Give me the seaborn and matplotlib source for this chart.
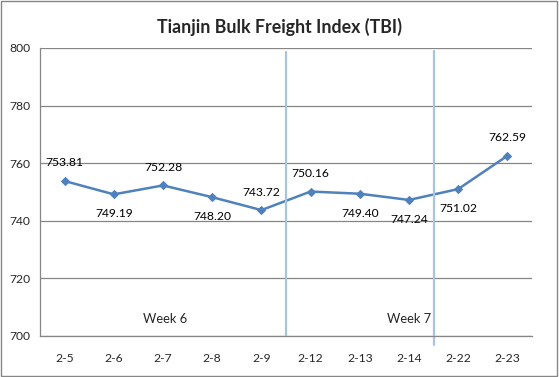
import matplotlib
matplotlib.use("Agg")
import matplotlib.pyplot as plt
import seaborn as sns
import pandas as pd
from matplotlib.patches import Rectangle

dates = ['2-5', '2-6', '2-7', '2-8', '2-9', '2-12', '2-13', '2-14', '2-22', '2-23']
tbi = [753.81, 749.19, 752.28, 748.20, 743.72, 750.16, 749.40, 747.24, 751.02, 762.59]
# label above (1) or below (-1) the point
label_side = [1, -1, 1, -1, 1, 1, -1, -1, -1, 1]
week_labels = ['Week 6', 'Week 7']
week_pos = [2.05, 7.0]
week_breaks = [4.5, 7.5]

sns.set_style('white')
plt.rcParams['font.family'] = ['Lato', 'DejaVu Sans']

df = pd.DataFrame({'pos': range(len(dates)), 'date': dates, 'tbi': tbi})

fig = plt.figure(figsize=(5.59, 3.77), dpi=100)
ax = fig.add_axes([40 / 559, 1 - 336 / 377, 492 / 559, 288 / 377])

line_color = '#4f81bd'
sns.lineplot(data=df, x='pos', y='tbi', ax=ax, color=line_color, linewidth=1.8,
             marker='D', markersize=4.2, markeredgecolor=line_color)

for i, v in enumerate(tbi):
    off = 13 if label_side[i] > 0 else -14
    ax.annotate(f'{v:.2f}', (i, v), xytext=(0, off), textcoords='offset points',
                ha='center', va='center', fontsize=8.7, color='#000000')

ax.set_xlim(-0.5, len(dates) - 0.5)
ax.set_ylim(700, 800)
ax.set_yticks(range(700, 801, 20))
ax.yaxis.grid(True, color='#868686', linewidth=0.9)
ax.set_axisbelow(True)

ax.set_xticks([i - 0.5 for i in range(len(dates) + 1)])
ax.set_xticklabels([])
ax.set_xticks(range(len(dates)), minor=True)
ax.set_xticklabels(dates, minor=True)
ax.tick_params(axis='x', which='major', direction='out', length=5, color='#868686', width=0.9)
ax.tick_params(axis='x', which='minor', length=0, pad=12, labelsize=8.7)
ax.tick_params(axis='y', direction='out', length=4, color='#868686', width=0.9, labelsize=8.7, pad=3)
ax.set_xlabel('')
ax.set_ylabel('')

for s in ['top', 'right']:
    ax.spines[s].set_visible(False)
for s in ['left', 'bottom']:
    ax.spines[s].set_color('#868686')
    ax.spines[s].set_linewidth(0.9)

ax.axvline(week_breaks[0], ymin=0, ymax=0.985, color='#a7c4e0', linewidth=1.6)
ax.axvline(week_breaks[1], ymin=-0.03, ymax=0.99, color='#a7c4e0', linewidth=1.6, clip_on=False)

for lab, p in zip(week_labels, week_pos):
    ax.text(p, 705.8, lab, ha='center', va='center', fontsize=9.3)

fig.text(0.5, 1 - 27 / 377, 'Tianjin Bulk Freight Index (TBI)', ha='center', va='center',
         fontsize=12.8, fontweight='bold')

fig.patches.append(Rectangle((0.002, 0.003), 0.994, 0.994, transform=fig.transFigure,
                             fill=False, edgecolor='#868686', linewidth=1))

fig.savefig('out.png', dpi=100)
